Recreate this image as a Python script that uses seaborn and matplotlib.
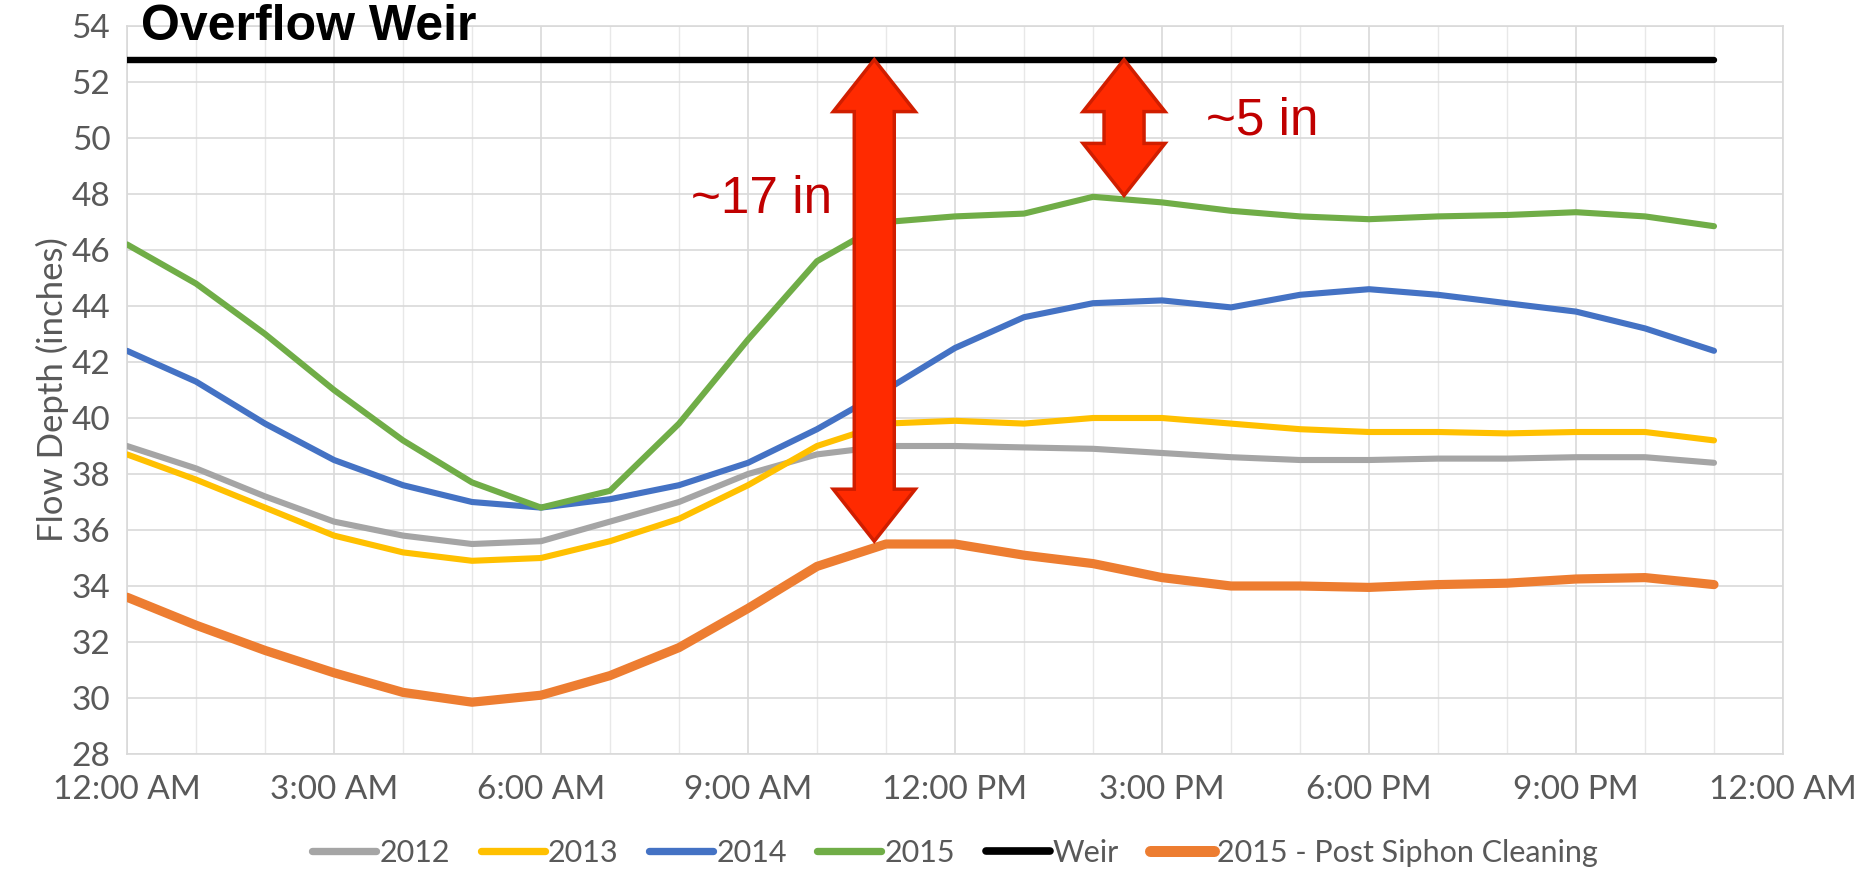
import numpy as np
import pandas as pd
import matplotlib
matplotlib.use("Agg")
import matplotlib.pyplot as plt
import seaborn as sns
from matplotlib.patches import Polygon
from matplotlib.transforms import IdentityTransform
from matplotlib.ticker import MultipleLocator, FixedLocator

# ---------------- data ----------------
hours = list(range(24))
y2012 = [39.0, 38.2, 37.2, 36.3, 35.8, 35.5, 35.6, 36.3, 37.0, 38.0, 38.7, 39.0,
         39.0, 38.95, 38.9, 38.75, 38.6, 38.5, 38.5, 38.55, 38.55, 38.6, 38.6, 38.4]
y2013 = [38.7, 37.8, 36.8, 35.8, 35.2, 34.9, 35.0, 35.6, 36.4, 37.6, 39.0, 39.8,
         39.9, 39.8, 40.0, 40.0, 39.8, 39.6, 39.5, 39.5, 39.45, 39.5, 39.5, 39.2]
y2014 = [42.4, 41.3, 39.8, 38.5, 37.6, 37.0, 36.8, 37.1, 37.6, 38.4, 39.6, 41.0,
         42.5, 43.6, 44.1, 44.2, 43.95, 44.4, 44.6, 44.4, 44.1, 43.8, 43.2, 42.4]
y2015 = [46.2, 44.8, 43.0, 41.0, 39.2, 37.7, 36.8, 37.4, 39.8, 42.8, 45.6, 47.0,
         47.2, 47.3, 47.9, 47.7, 47.4, 47.2, 47.1, 47.2, 47.25, 47.35, 47.2, 46.85]
weir = [52.8] * 24
y2015_post = [33.6, 32.6, 31.7, 30.9, 30.2, 29.85, 30.1, 30.8, 31.8, 33.2, 34.7, 35.5,
              35.5, 35.1, 34.8, 34.3, 34.0, 34.0, 33.95, 34.05, 34.1, 34.25, 34.3, 34.05]

series_names = ["2012", "2013", "2014", "2015", "Weir", "2015 - Post Siphon Cleaning"]
series_values = [y2012, y2013, y2014, y2015, weir, y2015_post]

x_tick_hours = [0, 3, 6, 9, 12, 15, 18, 21, 24]
x_tick_labels = ["12:00 AM", "3:00 AM", "6:00 AM", "9:00 AM", "12:00 PM",
                 "3:00 PM", "6:00 PM", "9:00 PM", "12:00 AM"]

# annotation arrows (hour, bottom value, label)
arrow_hours = [10.83, 14.45]
arrow_bottoms = [35.6, 47.95]
arrow_labels = ["~17 in", "~5 in"]
label_pos = [(9.2, 47.8), (16.45, 50.6)]

# ---------------- styles ----------------
colors = {"2012": "#A5A5A5", "2013": "#FFC000", "2014": "#4472C4",
          "2015": "#70AD47", "Weir": "#000000",
          "2015 - Post Siphon Cleaning": "#ED7D31"}
widths = {"2012": 4.4, "2013": 4.4, "2014": 4.4, "2015": 4.4, "Weir": 4.6,
          "2015 - Post Siphon Cleaning": 6.6}

df = pd.DataFrame({
    "hour": np.tile(hours, len(series_names)),
    "value": np.concatenate(series_values),
    "series": np.repeat(series_names, len(hours)),
})

sns.set_theme(style="whitegrid")
plt.rcParams["font.family"] = ["Lato", "DejaVu Sans"]

W, H = 1864, 884
fig = plt.figure(figsize=(W / 100, H / 100), dpi=100)
ax = fig.add_axes([127 / W, 1 - 754 / H, (1783 - 127) / W, (754 - 26) / H])

for name in series_names:
    sub = df[df["series"] == name]
    sns.lineplot(data=sub, x="hour", y="value", ax=ax, color=colors[name],
                 linewidth=widths[name], label=name, solid_capstyle="round",
                 solid_joinstyle="round", legend=False, zorder=3)

ax.set_xlim(0, 24)
ax.set_ylim(28, 54)
ax.yaxis.set_major_locator(MultipleLocator(2))
ax.xaxis.set_major_locator(FixedLocator(x_tick_hours))
ax.xaxis.set_minor_locator(MultipleLocator(1))
ax.set_xticklabels(x_tick_labels)

ax.grid(which="major", color="#D9D9D9", linewidth=1.2)
ax.grid(which="minor", axis="x", color="#E8E8E8", linewidth=1.0)
ax.set_axisbelow(True)
for s in ax.spines.values():
    s.set_color("#D9D9D9")
    s.set_linewidth(1.2)
ax.tick_params(axis="both", which="both", length=0, labelsize=24,
               labelcolor="#595959")
ax.tick_params(axis="x", pad=15)
ax.tick_params(axis="y", pad=12)
ax.set_xlabel("")
ax.set_ylabel("Flow Depth (inches)", fontsize=25, color="#595959", labelpad=2)

# title-like text
ax.text(0.2, 53.98, "Overflow Weir", fontsize=36, fontweight="bold",
        family="Liberation Sans", color="black", va="center", ha="left",
        zorder=5, clip_on=False)

# double arrows
fig.canvas.draw()
trans = ax.transData
hl, hw, sw = 52, 41, 20
for xh, yb in zip(arrow_hours, arrow_bottoms):
    cx, ty = trans.transform((xh, weir[0]))
    _, by = trans.transform((xh, yb))
    pts = [(cx, ty), (cx + hw, ty - hl), (cx + sw, ty - hl), (cx + sw, by + hl),
           (cx + hw, by + hl), (cx, by), (cx - hw, by + hl), (cx - sw, by + hl),
           (cx - sw, ty - hl), (cx - hw, ty - hl)]
    poly = Polygon(pts, closed=True, facecolor="#FF2A00", edgecolor="#D01E00",
                   linewidth=2.5, transform=IdentityTransform(), zorder=6)
    fig.add_artist(poly)

for (lx, ly), txt in zip(label_pos, arrow_labels):
    ax.text(lx, ly, txt, fontsize=37, family="Liberation Sans", color="#C00000",
            ha="center", va="center", zorder=7)

# legend
handles = [plt.Line2D([0], [0], color=colors[n], linewidth=widths[n] * 1.2,
                      solid_capstyle="round") for n in series_names]
fig.legend(handles, series_names, loc="center",
           bbox_to_anchor=(955 / W, 1 - 853 / H), ncol=6, frameon=False,
           fontsize=22, handlelength=2.1, handletextpad=0.1, columnspacing=1.0,
           labelcolor="#595959")

fig.savefig("out.png", dpi=100)
